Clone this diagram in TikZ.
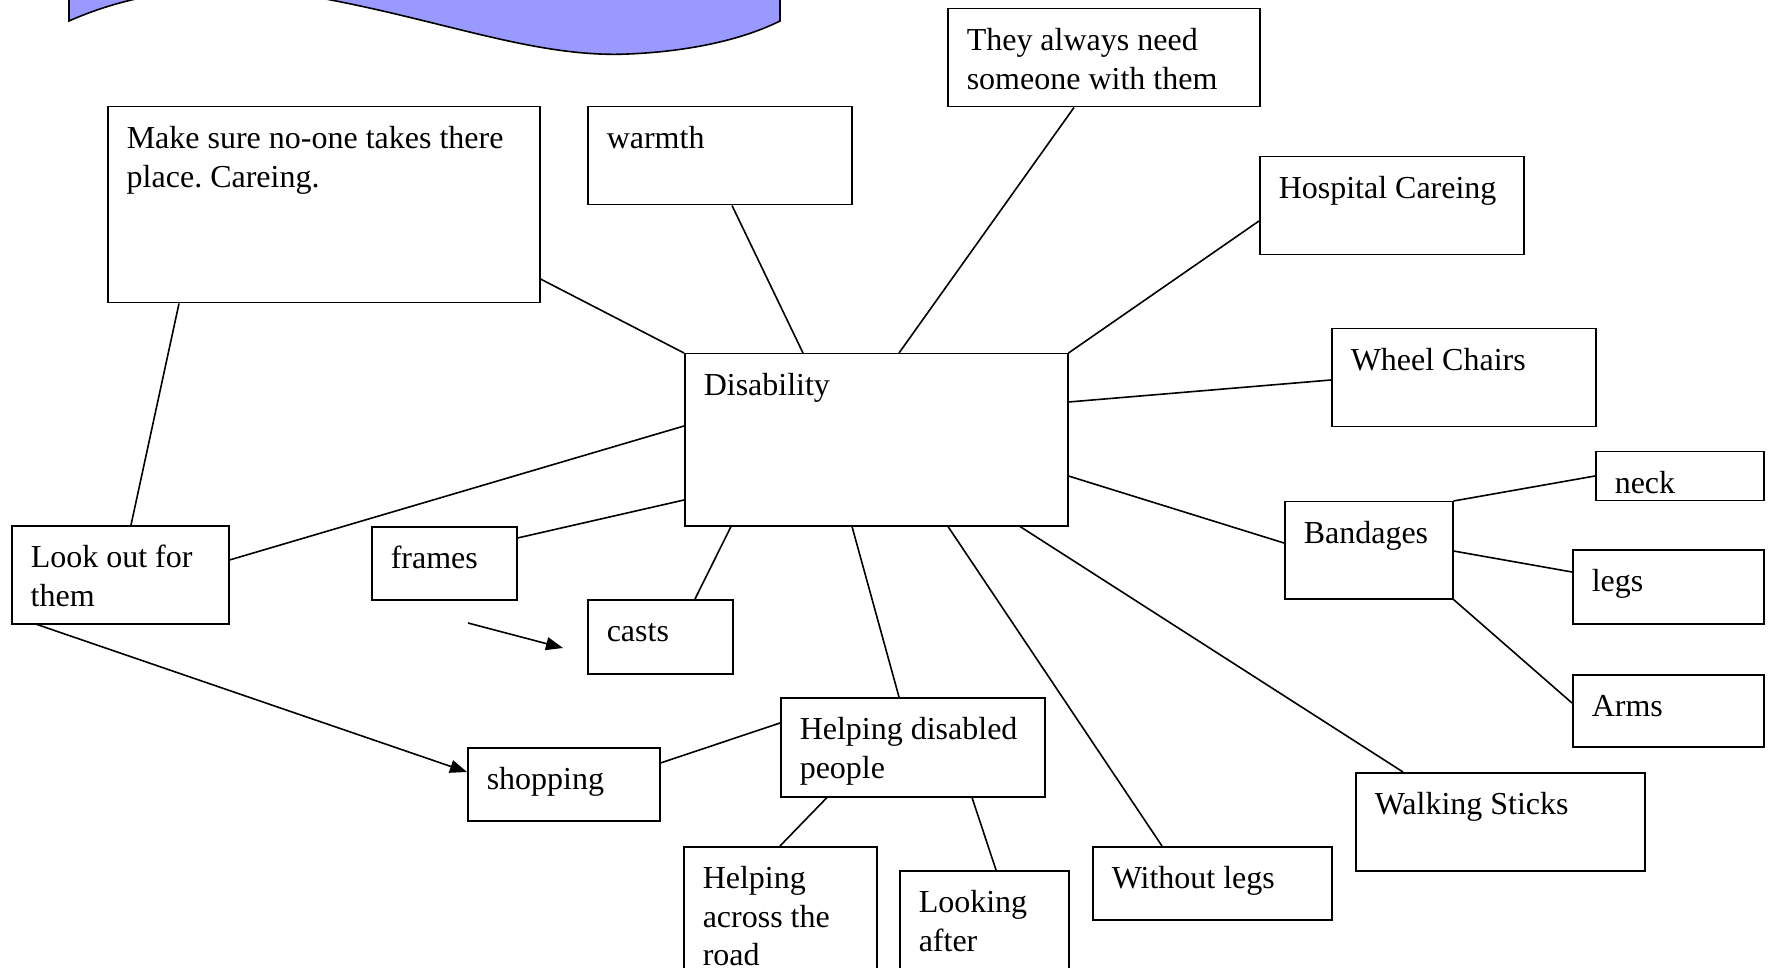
\documentclass[tikz,border=0pt]{standalone}
\usepackage{fontspec}
\setmainfont{Liberation Serif}
\usetikzlibrary{arrows.meta}
\definecolor{wavefill}{HTML}{9999FF}
\frenchspacing
\newcommand{\boxtxt}[3]{\parbox[c][#2][t]{#1}{\raggedright\leftskip=9.5pt\rule{0pt}{21pt}#3}}
\begin{document}
\begin{tikzpicture}[x=0.5pt,y=-0.5pt,
  font=\fontsize{16}{19.2}\selectfont,
  mbox/.style={draw,line width=0.75pt,anchor=north west,inner sep=0pt},
  link/.style={line width=0.8pt},
  arr/.style={line width=0.8pt,-{Triangle[length=8.5pt,width=6.5pt]}}]
\useasboundingbox (0,0) rectangle (1769,968);
\clip (0,0) rectangle (1769,968);
\draw[line width=0.8pt,fill=wavefill] (69,-100) -- (69,21) .. controls (150,-15) and (240,-18) .. (331,0)
  .. controls (450,23) and (540,58) .. (628,54) .. controls (700,51) and (750,36) .. (780,21) -- (780,-100) -- cycle;
\node[mbox] (dis) at (684,353) {\boxtxt{191.5pt}{86pt}{Disability}};
\node[mbox] (mk) at (107,106) {\boxtxt{216pt}{98pt}{Make sure no-one takes there\\place. Careing.}};
\node[mbox] (wm) at (587,106) {\boxtxt{132pt}{49pt}{warmth}};
\node[mbox] (alw) at (947,8) {\boxtxt{156pt}{49pt}{They always need\\someone with them}};
\node[mbox] (hosp) at (1259,156) {\boxtxt{132pt}{49pt}{Hospital Careing}};
\node[mbox] (wc) at (1331,328) {\boxtxt{132pt}{49pt}{Wheel Chairs}};
\node[mbox] (neck) at (1595,451) {\boxtxt{84pt}{24.5pt}{neck}};
\node[mbox] (band) at (1284,501) {\boxtxt{84pt}{48.5pt}{Bandages}};
\node[mbox] (legs) at (1572,549) {\boxtxt{95.5pt}{37pt}{legs}};
\node[mbox] (arms) at (1572,674) {\boxtxt{95.5pt}{36pt}{Arms}};
\node[mbox] (walk) at (1355,772) {\boxtxt{144.5pt}{49pt}{Walking Sticks}};
\node[mbox] (wl) at (1092,846) {\boxtxt{119.5pt}{36.5pt}{Without legs}};
\node[mbox] (after) at (899,870) {\boxtxt{84.5pt}{70pt}{Looking\\after}};
\node[mbox] (across) at (683,846) {\boxtxt{96.5pt}{80pt}{Helping\\across the\\road}};
\node[mbox] (help) at (780,697) {\boxtxt{132pt}{49.5pt}{Helping disabled\\people}};
\node[mbox] (shop) at (467,747) {\boxtxt{96pt}{36.5pt}{shopping}};
\node[mbox] (casts) at (587,599) {\boxtxt{72.5pt}{37pt}{casts}};
\node[mbox] (frames) at (371,526) {\boxtxt{72.5pt}{36.5pt}{frames}};
\node[mbox] (look) at (11,525) {\boxtxt{108.5pt}{49pt}{Look out for\\them}};
\draw[link] (mk.east |- 0,279) -- (dis.north west);
\draw[link] (wm.south -| 732,0) -- (dis.north -| 803,0);
\draw[link] (alw.south -| 1074,0) -- (dis.north -| 899,0);
\draw[link] (hosp.west |- 0,221) -- (dis.north east);
\draw[link] (wc.west |- 0,380) -- (dis.east |- 0,402);
\draw[link] (band.west |- 0,543) -- (dis.east |- 0,476);
\draw[link] (band.north east) -- (neck.west |- 0,476);
\draw[link] (band.east |- 0,551) -- (legs.west |- 0,572);
\draw[link] (band.south east) -- (arms.west |- 0,703);
\draw[link] (walk.north -| 1403,0) -- (dis.south -| 1020,0);
\draw[link] (wl.north -| 1162,0) -- (dis.south -| 948,0);
\draw[link] (help.north -| 899,0) -- (dis.south -| 852,0);
\draw[link] (casts.north -| 695,0) -- (dis.south -| 731,0);
\draw[link] (frames.east |- 0,538) -- (dis.west |- 0,500);
\draw[link] (look.east |- 0,560) -- (dis.west |- 0,426);
\draw[link] (look.north -| 131,0) -- (mk.south -| 179,0);
\draw[link] (shop.east |- 0,763) -- (help.west |- 0,723);
\draw[link] (help.south -| 827,0) -- (across.north -| 780,0);
\draw[link] (help.south -| 972,0) -- (after.north -| 996,0);
\draw[arr] (look.south -| 37,0) -- (shop.west |- 0,772);
\coordinate (fa) at (468,623);
\coordinate (fb) at (563,648);
\draw[arr] (fa) -- (fb);
\end{tikzpicture}
\end{document}
